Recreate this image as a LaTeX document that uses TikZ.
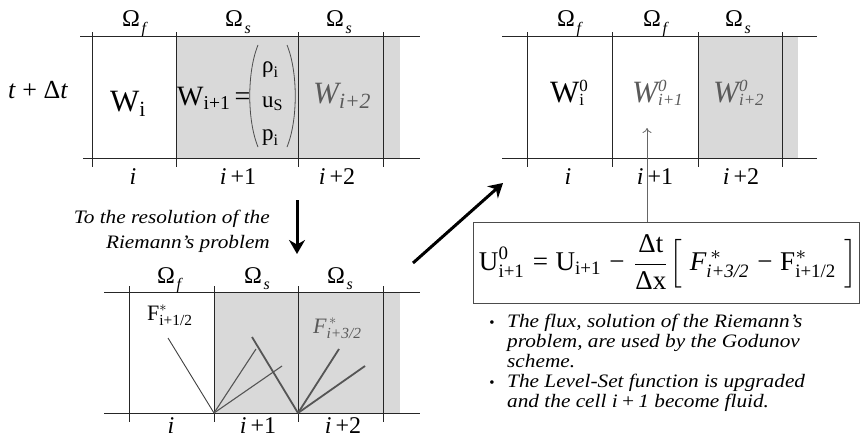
\documentclass[tikz,border=0pt]{standalone}
\usepackage{amsmath}
\usepackage{fontspec}
\setmainfont{Liberation Serif}
\usetikzlibrary{arrows.meta}
\definecolor{cellgray}{RGB}{217,217,217}
\definecolor{txtgray}{RGB}{90,90,90}
\definecolor{fangray}{RGB}{85,85,85}
\newcommand\fsz[1]{\fontsize{#1}{#1}\selectfont}
\newcommand\omsub[1]{Ω\hspace{1.5pt}\raisebox{-6pt}{\fsz{16}\textit{#1}}}
\newcommand\wsupsub[3]{#1\rlap{\raisebox{11pt}{\fsz{17}#2}}\raisebox{-3pt}{\fsz{17}#3}}
\begin{document}
\begin{tikzpicture}[x=1pt,y=-1pt,
  gridline/.style={line width=1pt,draw=black!85},
  cellfill/.style={fill=cellgray,draw=none},
  omega/.style={font=\fsz{24},anchor=base,inner sep=0pt},
  idx/.style={font=\fsz{24},anchor=base,inner sep=0pt},
  bigw/.style={font=\fsz{31},anchor=base west,inner sep=0pt},
  greyw/.style={bigw,text=txtgray},
  entry/.style={font=\fsz{23},anchor=base west,inner sep=0pt},
  note/.style={font=\fsz{19}\itshape\addfontfeature{FakeStretch=1.12},anchor=base west,inner sep=0pt},
  bigarrow/.style={line width=3pt,-{Stealth[length=14pt,width=16pt]}},
  fanthin/.style={line width=0.9pt,draw=black!75},
  fanmid/.style={line width=1.1pt,draw=fangray},
  fanthick/.style={line width=1.8pt,draw=fangray}]
\useasboundingbox (0,0) rectangle (861,439);

% ---------- top-left grid ----------
\fill[cellfill] (176,36) rectangle (400,158);
\draw[gridline] (80,36) -- (420,36);
\draw[gridline] (83,158) -- (420,158);
\foreach \x in {92,176,298,383} \draw[gridline] (\x,32) -- (\x,167);
\node[omega] (tlo1) at (135,27) {\omsub{f}};
\node[omega] (tlo2) at (238,27) {\omsub{s}};
\node[omega] (tlo3) at (339,27) {\omsub{s}};
\node[font=\fsz{26},anchor=base west,inner sep=0pt] (tdt) at (8,98) {\textit{t} + Δ\textit{t}};
\node[bigw] (tlw1) at (110,111) {$\text{W}_{\text{i}}$};
\node[bigw,font=\fsz{28}] (tlw2) at (177,105) {$\text{W}_{\text{i+1}}\,\text{=}$};
\node[entry] (rho) at (262,72) {$\text{ρ}_{\text{i}}$};
\node[entry] (us) at (262,107) {$\text{u}_{\text{S}}$};
\node[entry] (pi) at (262,140) {$\text{p}_{\text{i}}$};
\draw[line width=0.8pt,draw=black!70] (258,45) .. controls (247,72) and (247,120) .. (258,147);
\draw[line width=0.8pt,draw=black!70] (287,45) .. controls (298,72) and (298,120) .. (287,147);
\node[greyw] (tlw3) at (313,103) {$\textit{W}_{\textit{i+2}}$};
\node[idx] (tli1) at (133,184) {\textit{i}};
\node[idx] (tli2) at (238,184) {\textit{i}\,+1};
\node[idx] (tli3) at (337,184) {\textit{i}\,+2};

% ---------- top-right grid ----------
\fill[cellfill] (698,36) rectangle (798,158);
\draw[gridline] (502,36) -- (817,36);
\draw[gridline] (502,158) -- (817,158);
\foreach \x in {527,612,698,782} \draw[gridline] (\x,32) -- (\x,167);
\node[omega] (tro1) at (570,27) {\omsub{f}};
\node[omega] (tro2) at (656,27) {\omsub{f}};
\node[omega] (tro3) at (738,27) {\omsub{s}};
\node[bigw] (trw1) at (550,102) {\wsupsub{W}{0}{i}};
\node[greyw] (trw2) at (632,102) {\itshape\wsupsub{W}{0}{i+1}};
\node[greyw] (trw3) at (713,102) {\itshape\wsupsub{W}{0}{i+2}};
\node[idx] (tri1) at (568,184) {\textit{i}};
\node[idx] (tri2) at (655,184) {\textit{i}\,+1};
\node[idx] (tri3) at (741,184) {\textit{i}\,+2};

% ---------- bottom grid ----------
\fill[cellfill] (214,292) rectangle (400,413);
\draw[gridline] (104,292) -- (420,292);
\draw[gridline] (104,413) -- (420,413);
\foreach \x in {129,214,298,383} \draw[gridline] (\x,286) -- (\x,422);
\node[omega] (bo1) at (170,283) {\omsub{f}};
\node[omega] (bo2) at (257,283) {\omsub{s}};
\node[omega] (bo3) at (340,283) {\omsub{s}};
\node[font=\fsz{22},anchor=base west,inner sep=0pt] (f1) at (147,320) {$\text{F}^{*}_{\text{i+1/2}}$};
\node[font=\fsz{22},anchor=base west,inner sep=0pt,text=txtgray] (f2) at (313,333) {$\textit{F}^{\,*}_{\textit{i+3/2}}$};
\coordinate (o1) at (214,413);
\coordinate (o2) at (298,413);
\coordinate (e1) at (168,338);
\coordinate (e2) at (256,349);
\coordinate (e3) at (282,366);
\coordinate (e4) at (252,337);
\coordinate (e5) at (339,349);
\coordinate (e6) at (365,366);
\draw[fanthin] (o1) -- (e1);
\draw[fanmid] (o1) -- (e2);
\draw[fanmid] (o1) -- (e3);
\draw[fanthick] (o2) -- (e4);
\draw[fanthick] (o2) -- (e5);
\draw[fanthick] (o2) -- (e6);
\node[idx] (bi1) at (171,433) {\textit{i}};
\node[idx] (bi2) at (258,433) {\textit{i}\,+1};
\node[idx] (bi3) at (343,433) {\textit{i}\,+2};

% ---------- text and arrows ----------
\node[note,anchor=base east] (r1) at (270,223) {To the resolution of the};
\node[note,anchor=base east] (r2) at (270,248) {Riemann’s problem};
\coordinate (da1) at (297,200);
\coordinate (da2) at (297,254);
\draw[bigarrow] (da1) -- (da2);
\coordinate (ua1) at (413,263);
\coordinate (ua2) at (503,183);
\draw[bigarrow] (ua1) -- (ua2);

% formula box
\node[draw=black!70,line width=0.9pt,minimum width=386pt,minimum height=81pt,inner sep=0pt] (box) at (666,262.5) {};
\node[inner sep=0pt] (formula) at (668,262) {\resizebox{378pt}{!}{$\text{U}^{\text{0}}_{\text{i+1}}\;\text{=}\;\text{U}_{\text{i+1}}\;\text{−}\;\dfrac{\text{Δt}}{\text{Δx}}\Big[\;\textit{F}^{\,*}_{\textit{i+3/2}}\;\text{−}\;\text{F}^{*}_{\text{i+1/2}}\;\Big]$}};
\coordinate (gtip) at (647,128);
\draw[line width=0.8pt,draw=black!60,-{To[length=5pt,width=9pt]}] (box.north -| gtip) -- (gtip);

% bullets
\node[font=\fsz{15},anchor=base,inner sep=0pt] (b1) at (492,327) {•};
\node[note] (l1) at (507,327) {The flux, solution of the Riemann’s};
\node[note] (l2) at (507,347) {problem, are used by the Godunov};
\node[note] (l3) at (507,367) {scheme.};
\node[font=\fsz{15},anchor=base,inner sep=0pt] (b2) at (492,387) {•};
\node[note] (l4) at (507,387) {The Level-Set function is upgraded};
\node[note] (l5) at (507,407) {and the cell \textit{i}\,+\,1 become fluid.};
\end{tikzpicture}
\end{document}
